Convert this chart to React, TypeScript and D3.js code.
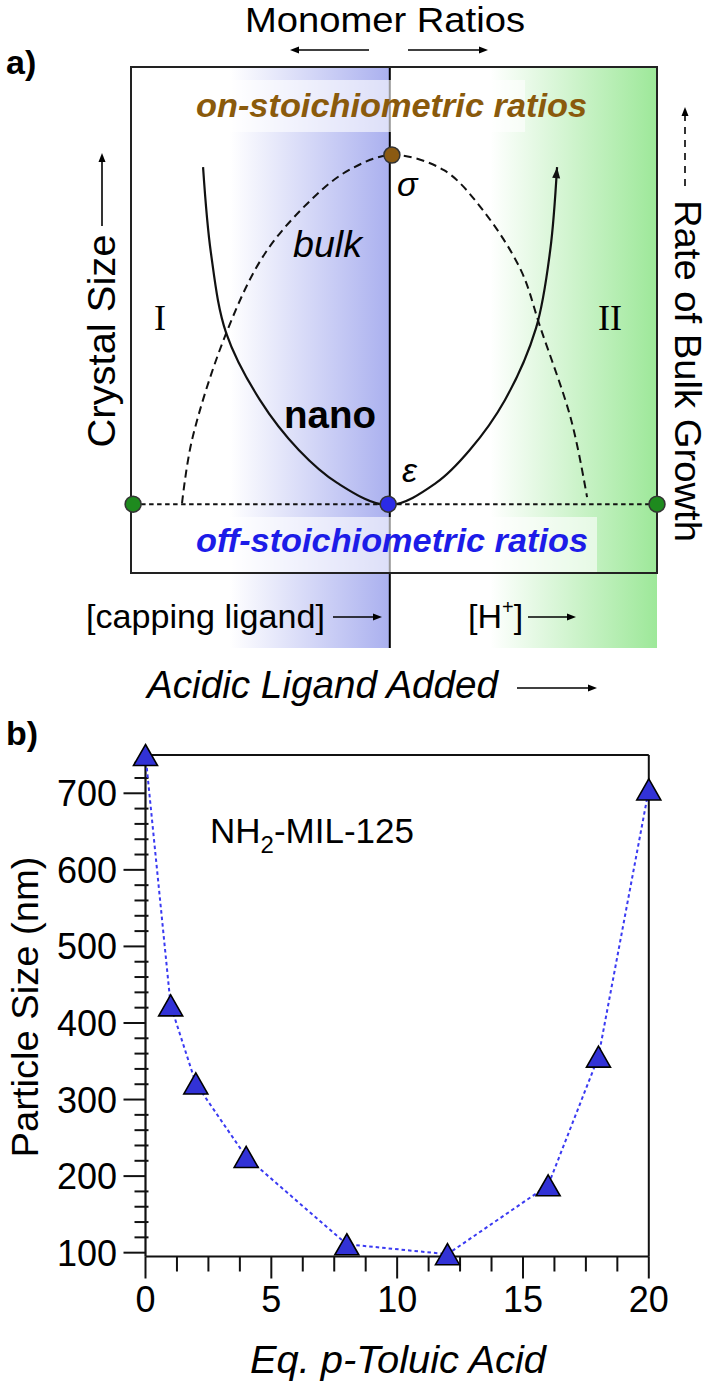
import React from 'react';
import * as d3 from 'd3';

// ---------- Panel b data ----------
const eqToluic = [0, 1, 2, 4, 8, 12, 16, 18, 20];
const particleSize = [750, 423, 321, 225, 111, 98, 188, 356, 705];
const yTicksB = [100, 200, 300, 400, 500, 600, 700];
const xTicksB = [0, 5, 10, 15, 20];

// ---------- Panel a schematic (x: 0..100 across frame, y: 0..100 bottom->top) ----------
const bulkX = [9.7, 11.6, 18.1, 25.5, 34.8, 41.4, 49.6, 59.5, 66.9, 74.1, 77.8, 83.7, 86.7];
const bulkY = [13.8, 26.3, 47.4, 63.2, 74.3, 79.6, 82.6, 79.6, 71.7, 59.9, 48.6, 30.2, 15.0];
const nanoX = [13.7, 15.2, 18.1, 24.5, 31.9, 39.2, 49.0, 58.0, 64.4, 71.1, 77.0, 79.7, 81.0];
const nanoY = [80.2, 63.2, 47.4, 34.2, 24.3, 17.8, 13.4, 17.8, 24.3, 34.2, 48.4, 63.8, 80.2];
const sigmaPoint = [49.6, 82.6];
const epsilonPoint = [48.9, 13.6];
const edgePointsX = [0.4, 100];
const baselineY = 13.6;
const stoichX = 49.2;

const SANS = "'Liberation Sans', Arial, Helvetica, sans-serif";
const SERIF = "'Liberation Serif', 'Times New Roman', serif";

function Arrow({ x1, y1, x2, y2, len = 9, w = 3.5, dash, sw = 1.6 }: any) {
  const ang = Math.atan2(y2 - y1, x2 - x1);
  const bx = x2 - len * Math.cos(ang);
  const by = y2 - len * Math.sin(ang);
  const px = -Math.sin(ang) * w;
  const py = Math.cos(ang) * w;
  return (
    <g>
      <line x1={x1} y1={y1} x2={bx} y2={by} stroke="#000" strokeWidth={sw} strokeDasharray={dash} />
      <path d={`M${x2},${y2} L${bx + px},${by + py} L${bx - px},${by - py} Z`} fill="#000" />
    </g>
  );
}

export default function App() {
  const W = 708, H = 1387;
  const xA = d3.scaleLinear().domain([0, 100]).range([131, 657]);
  const yA = d3.scaleLinear().domain([0, 100]).range([573, 67]);
  const lineA = d3.line<[number, number]>()
    .x(d => xA(d[0])).y(d => yA(d[1]))
    .curve(d3.curveCatmullRom.alpha(0.5));
  const bulkPts = bulkX.map((x, i) => [x, bulkY[i]] as [number, number]);
  const nanoPts = nanoX.map((x, i) => [x, nanoY[i]] as [number, number]);

  // nano arrow head at end
  const nEnd = nanoPts[nanoPts.length - 1];
  const nPrev = nanoPts[nanoPts.length - 2];
  const ex = xA(nEnd[0]), ey = yA(nEnd[1]);
  const ang = Math.atan2(ey - yA(nPrev[1]), ex - xA(nPrev[0]));
  const hl = 11, hw = 4;
  const hbx = ex - hl * Math.cos(ang), hby = ey - hl * Math.sin(ang);
  const nanoHead = `M${ex},${ey} L${hbx - Math.sin(ang) * hw},${hby + Math.cos(ang) * hw} L${hbx + Math.sin(ang) * hw},${hby - Math.cos(ang) * hw} Z`;

  const xB = d3.scaleLinear().domain([0, 20]).range([145.5, 648.8]);
  const yB = d3.scaleLinear().domain([95, 750]).range([1256.5, 755]);
  const lineB = d3.line<number>().x((d, i) => xB(eqToluic[i])).y(d => yB(d));
  const yMinor = d3.range(100, 750, 20).filter(v => v % 100 !== 0);
  const xMinor = d3.range(0, 20.001, 1.25).filter(v => Math.abs(v % 5) > 1e-6);

  const gradTop = yA(100);
  const gradBot = 648;

  return (
    <svg width={W} height={H} style={{ position: 'absolute', left: 0, top: 0, background: '#fff' }}
      fontFamily={SANS}>
      <defs>
        <linearGradient id="blueGrad" gradientUnits="userSpaceOnUse" x1={xA(18.8)} x2={xA(stoichX)} y1={0} y2={0}>
          <stop offset="0" stopColor="#ffffff" />
          <stop offset="1" stopColor="#aab0ef" />
        </linearGradient>
        <linearGradient id="greenGrad" gradientUnits="userSpaceOnUse" x1={xA(68.3)} x2={xA(100)} y1={0} y2={0}>
          <stop offset="0" stopColor="#ffffff" />
          <stop offset="1" stopColor="#9de899" />
        </linearGradient>
      </defs>
      <rect x={0} y={0} width={W} height={H} fill="#fff" />

      {/* ================= Panel a ================= */}
      <text x={6} y={74} fontSize={34} fontWeight="bold">a)</text>
      <text x={245} y={32} fontSize={35} textLength={280} lengthAdjust="spacingAndGlyphs">Monomer Ratios</text>
      <Arrow x1={369} y1={50} x2={290} y2={50} />
      <Arrow x1={408} y1={50} x2={488} y2={50} />

      <rect x={xA(18.8)} y={gradTop} width={xA(stoichX) - xA(18.8)} height={gradBot - gradTop} fill="url(#blueGrad)" />
      <rect x={xA(68.3)} y={gradTop} width={xA(100) - xA(68.3)} height={gradBot - gradTop} fill="url(#greenGrad)" />
      <line x1={xA(stoichX)} x2={xA(stoichX)} y1={gradTop} y2={gradBot} stroke="#000" strokeWidth={2} />

      {/* translucent label bands */}
      <rect x={194} y={80} width={331} height={52} fill="#fff" opacity={0.6} />
      <rect x={194} y={517} width={403} height={55} fill="#fff" opacity={0.6} />

      <text x={196} y={117} fontSize={33} fontWeight="bold" fontStyle="italic" fill="#8a5a0c"
        textLength={391} lengthAdjust="spacingAndGlyphs">on-stoichiometric ratios</text>
      <text x={196} y={552} fontSize={33} fontWeight="bold" fontStyle="italic" fill="#1c1ce8"
        textLength={392} lengthAdjust="spacingAndGlyphs">off-stoichiometric ratios</text>

      {/* baseline dotted */}
      <line x1={xA(edgePointsX[0])} x2={xA(edgePointsX[1])} y1={yA(baselineY)} y2={yA(baselineY)}
        stroke="#111" strokeWidth={1.9} strokeDasharray="4.5,3.5" />

      {/* curves */}
      <path d={lineA(bulkPts) || ''} fill="none" stroke="#111" strokeWidth={2} strokeDasharray="8,5" />
      <path d={lineA(nanoPts) || ''} fill="none" stroke="#111" strokeWidth={2.2} />
      <path d={nanoHead} fill="#111" />

      {/* frame */}
      <rect x={xA(0)} y={yA(100)} width={xA(100) - xA(0)} height={yA(0) - yA(100)} fill="none" stroke="#222" strokeWidth={2} />

      {/* points */}
      <circle cx={xA(sigmaPoint[0])} cy={yA(sigmaPoint[1])} r={8} fill="#8b5a12" stroke="#333" strokeWidth={1.5} />
      <circle cx={xA(epsilonPoint[0])} cy={yA(epsilonPoint[1])} r={8} fill="#2b2be6" stroke="#333" strokeWidth={1.5} />
      {edgePointsX.map((x, i) => (
        <circle key={i} cx={xA(x)} cy={yA(baselineY)} r={8} fill="#1e8a1e" stroke="#333" strokeWidth={1.5} />
      ))}

      {/* labels inside */}
      <text x={397} y={196} fontSize={34} fontStyle="italic">σ</text>
      <text x={402} y={482} fontSize={34} fontStyle="italic">ε</text>
      <text x={293} y={257} fontSize={36} fontStyle="italic" textLength={69} lengthAdjust="spacingAndGlyphs">bulk</text>
      <text x={284} y={428} fontSize={38} fontWeight="bold" textLength={92} lengthAdjust="spacingAndGlyphs">nano</text>
      <text x={160} y={330} fontSize={36} fontFamily={SERIF} textAnchor="middle">I</text>
      <text x={610} y={330} fontSize={36} fontFamily={SERIF} textAnchor="middle">II</text>

      {/* below frame */}
      <text x={86} y={628} fontSize={34} textLength={239} lengthAdjust="spacingAndGlyphs">[capping ligand]</text>
      <Arrow x1={333} y1={617} x2={382} y2={617} sw={1.5} />
      <text x={468} y={628} fontSize={34}>[H<tspan fontSize={20} dy={-14}>+</tspan><tspan dy={14}>]</tspan></text>
      <Arrow x1={528} y1={617} x2={576} y2={617} sw={1.5} />
      <text x={147} y={698} fontSize={38} fontStyle="italic" textLength={351} lengthAdjust="spacingAndGlyphs">Acidic Ligand Added</text>
      <Arrow x1={517} y1={688} x2={597} y2={688} sw={1.5} />

      {/* side titles */}
      <text transform={`translate(115,341) rotate(-90)`} fontSize={38} textAnchor="middle"
        textLength={213} lengthAdjust="spacingAndGlyphs">Crystal Size</text>
      <Arrow x1={102} y1={226} x2={102} y2={153} sw={1.6} />
      <text transform={`translate(675,200) rotate(90)`} fontSize={37}
        textLength={342} lengthAdjust="spacingAndGlyphs">Rate of Bulk Growth</text>
      <Arrow x1={685} y1={186} x2={685} y2={107} sw={1.6} dash="7,6" />

      {/* ================= Panel b ================= */}
      <text x={6} y={745} fontSize={34} fontWeight="bold">b)</text>

      {/* frame */}
      <line x1={xB(0)} x2={xB(20)} y1={yB(750)} y2={yB(750)} stroke="#111" strokeWidth={2} />
      <line x1={xB(20)} x2={xB(20)} y1={yB(750)} y2={yB(95)} stroke="#111" strokeWidth={2} />
      <line x1={xB(0)} x2={xB(0)} y1={yB(750)} y2={yB(95)} stroke="#111" strokeWidth={2.2} />
      <line x1={xB(0)} x2={xB(20)} y1={yB(95)} y2={yB(95)} stroke="#111" strokeWidth={2.2} />

      {/* y ticks */}
      {yTicksB.map(v => (
        <g key={v}>
          <line x1={xB(0) - 22} x2={xB(0)} y1={yB(v)} y2={yB(v)} stroke="#111" strokeWidth={2} />
          <text x={117} y={yB(v) + 13} fontSize={36} textAnchor="end">{v}</text>
        </g>
      ))}
      {yMinor.map(v => (
        <line key={v} x1={xB(0) - 11} x2={xB(0) + 3} y1={yB(v)} y2={yB(v)} stroke="#111" strokeWidth={2} />
      ))}
      {/* x ticks */}
      {xTicksB.map(v => (
        <g key={v}>
          <line x1={xB(v)} x2={xB(v)} y1={yB(95)} y2={yB(95) + 22} stroke="#111" strokeWidth={2} />
          <text x={xB(v)} y={1312} fontSize={36} textAnchor="middle">{v}</text>
        </g>
      ))}
      {xMinor.map(v => (
        <line key={v} x1={xB(v)} x2={xB(v)} y1={yB(95)} y2={yB(95) + 15} stroke="#111" strokeWidth={2} />
      ))}

      {/* data */}
      <path d={lineB(particleSize) || ''} fill="none" stroke="#3a3af2" strokeWidth={2} strokeDasharray="3.5,3" />
      {particleSize.map((v, i) => {
        const cx = xB(eqToluic[i]);
        const cy = yB(v);
        return (
          <path key={i} d={`M${cx},${cy - 10.5} L${cx + 12},${cy + 10.5} L${cx - 12},${cy + 10.5} Z`}
            fill="#3232d6" stroke="#000" strokeWidth={1.6} strokeLinejoin="miter" />
        );
      })}

      <text x={210} y={843} fontSize={35}>NH<tspan fontSize={24} dy={10}>2</tspan><tspan dy={-10}>-MIL-125</tspan></text>

      <text x={250} y={1373} fontSize={38} fontStyle="italic" textLength={296} lengthAdjust="spacingAndGlyphs">Eq. p-Toluic Acid</text>
      <text transform={`translate(38,1007) rotate(-90)`} fontSize={37} textAnchor="middle"
        textLength={301} lengthAdjust="spacingAndGlyphs">Particle Size (nm)</text>
    </svg>
  );
}
